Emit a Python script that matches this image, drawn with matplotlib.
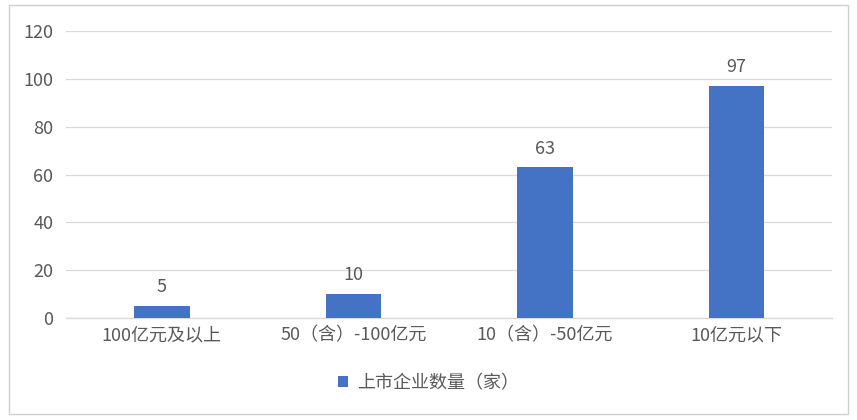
import matplotlib.pyplot as plt
from matplotlib.patches import Rectangle

plt.rcParams['font.family'] = ['Noto Sans CJK SC', 'DejaVu Sans']

categories = ["100亿元及以上", "50（含）-100亿元", "10（含）-50亿元", "10亿元以下"]
counts = [5, 10, 63, 97]
series_name = "上市企业数量（家）"

bar_color = "#4472C4"
text_color = "#595959"
grid_color = "#D9D9D9"
fs = 13

fig = plt.figure(figsize=(8.57, 4.2), dpi=100)
ax = fig.add_axes([0.077, 0.243, 0.894, 0.683])

x = range(len(categories))
bars = ax.bar(x, counts, width=0.29, color=bar_color, label=series_name, zorder=3)
for b, v in zip(bars, counts):
    ax.text(b.get_x() + b.get_width() / 2, v + 4, str(v), ha="center", va="bottom",
            fontsize=fs, color=text_color)

ax.set_xlim(-0.5, len(categories) - 0.5)
ax.set_ylim(0, 120)
ax.set_yticks(range(0, 121, 20))
ax.set_xticks(list(x))
ax.set_xticklabels(categories)
ax.tick_params(axis="both", length=0, labelsize=fs, labelcolor=text_color)
ax.tick_params(axis="x", pad=6)
ax.tick_params(axis="y", pad=9)
ax.grid(axis="y", color=grid_color, linewidth=0.9, zorder=0)
for s in ["top", "right", "left"]:
    ax.spines[s].set_visible(False)
ax.spines["bottom"].set_color(grid_color)
ax.spines["bottom"].set_linewidth(1.0)

fig.legend(loc="center", bbox_to_anchor=(0.5, 0.088), frameon=False, fontsize=fs,
           labelcolor=text_color, handlelength=0.6, handleheight=0.6, handletextpad=0.5)

fig.patches.append(Rectangle((0.01, 0.014), 0.98, 0.973, transform=fig.transFigure,
                             fill=False, edgecolor="#D0D0D0", linewidth=1.0))

fig.savefig("out.png", dpi=100)
